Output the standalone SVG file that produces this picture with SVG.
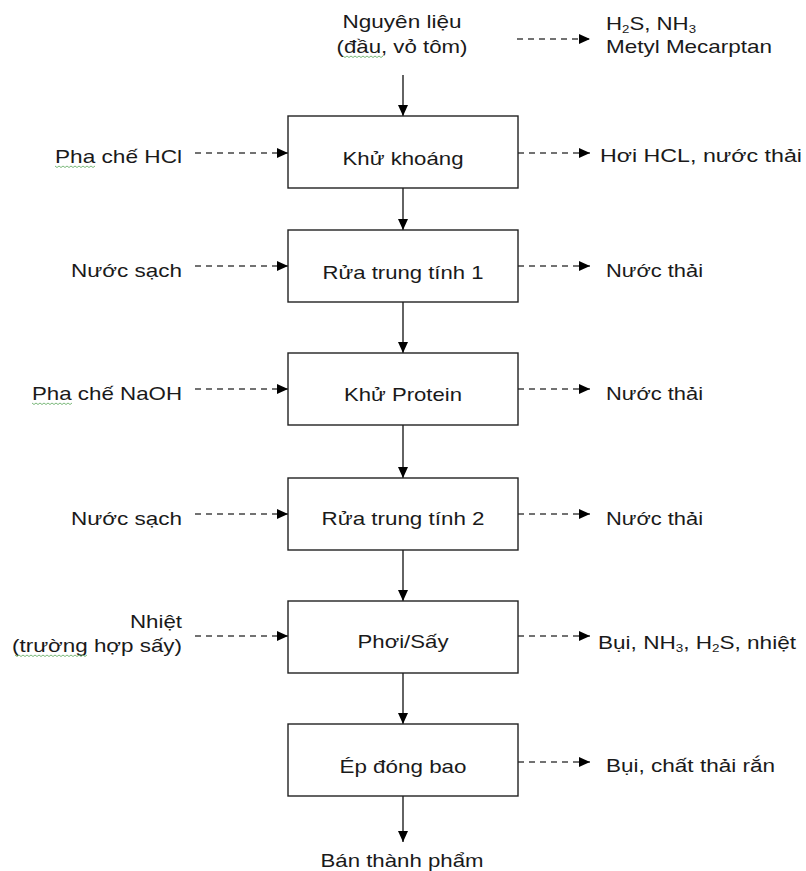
<svg xmlns="http://www.w3.org/2000/svg" width="806" height="871" viewBox="0 0 806 871">
<style>
text{font-family:"Liberation Sans",Arial,sans-serif;font-size:18.5px;fill:#1a1a1a}
.box{fill:#fff;stroke:#222;stroke-width:1.4}
.flow{stroke:#222;stroke-width:1.4;fill:none}
.dash{stroke:#444;stroke-width:1.4;stroke-dasharray:6 5;fill:none}
.sq{stroke:#7cb97c;stroke-width:1;fill:none}
.sub{font-size:11px}
</style>
<defs>
<marker id="ah" markerWidth="11" markerHeight="10" refX="11" refY="5" orient="auto" markerUnits="userSpaceOnUse">
<path d="M0,0 L11,5 L0,10 z" fill="#000"/>
</marker>
</defs>
<rect width="806" height="871" fill="#fff"/>

<g id="connectors">
<line class="flow" x1="403" y1="75" x2="403" y2="116" marker-end="url(#ah)"/>
<line class="flow" x1="403" y1="188" x2="403" y2="230" marker-end="url(#ah)"/>
<line class="flow" x1="403" y1="302" x2="403" y2="353" marker-end="url(#ah)"/>
<line class="flow" x1="403" y1="425" x2="403" y2="478" marker-end="url(#ah)"/>
<line class="flow" x1="403" y1="550" x2="403" y2="601" marker-end="url(#ah)"/>
<line class="flow" x1="403" y1="673" x2="403" y2="724" marker-end="url(#ah)"/>
<line class="flow" x1="403" y1="796" x2="403" y2="842" marker-end="url(#ah)"/>

<line class="dash" x1="517" y1="39" x2="590" y2="39" marker-end="url(#ah)"/>

<line class="dash" x1="195" y1="153" x2="288" y2="153" marker-end="url(#ah)"/>
<line class="dash" x1="195" y1="266" x2="288" y2="266" marker-end="url(#ah)"/>
<line class="dash" x1="195" y1="389" x2="288" y2="389" marker-end="url(#ah)"/>
<line class="dash" x1="195" y1="514" x2="288" y2="514" marker-end="url(#ah)"/>
<line class="dash" x1="195" y1="636" x2="288" y2="636" marker-end="url(#ah)"/>

<line class="dash" x1="518" y1="153" x2="590" y2="153" marker-end="url(#ah)"/>
<line class="dash" x1="518" y1="266" x2="590" y2="266" marker-end="url(#ah)"/>
<line class="dash" x1="518" y1="389" x2="590" y2="389" marker-end="url(#ah)"/>
<line class="dash" x1="518" y1="514" x2="590" y2="514" marker-end="url(#ah)"/>
<line class="dash" x1="518" y1="636" x2="590" y2="636" marker-end="url(#ah)"/>
<line class="dash" x1="518" y1="762" x2="590" y2="762" marker-end="url(#ah)"/>
</g>

<g id="input">
<text x="402" y="28" text-anchor="middle" textLength="119" lengthAdjust="spacingAndGlyphs">Nguyên liệu</text>
<text x="402" y="53" text-anchor="middle" textLength="131" lengthAdjust="spacingAndGlyphs">(đầu, vỏ tôm)</text>
<path class="sq" d="M343,56 l2,1.5 2,-1.5 2,1.5 2,-1.5 2,1.5 2,-1.5 2,1.5 2,-1.5 2,1.5 2,-1.5 2,1.5 2,-1.5 2,1.5 2,-1.5 2,1.5 2,-1.5 2,1.5 2,-1.5 2,1.5 2,-1.5"/>
</g>

<g id="odor">
<text x="606" y="30" textLength="90" lengthAdjust="spacingAndGlyphs">H<tspan class="sub" dy="3">2</tspan><tspan dy="-3">S, NH</tspan><tspan class="sub" dy="3">3</tspan></text>
<text x="606" y="53" textLength="166" lengthAdjust="spacingAndGlyphs">Metyl Mecarptan</text>
</g>

<g id="n1">
<rect class="box" x="288" y="116" width="230" height="72"/>
<text x="403" y="165" text-anchor="middle" textLength="121" lengthAdjust="spacingAndGlyphs">Khử khoáng</text>
</g>
<g id="n2">
<rect class="box" x="288" y="230" width="230" height="72"/>
<text x="403" y="279" text-anchor="middle" textLength="161" lengthAdjust="spacingAndGlyphs">Rửa trung tính 1</text>
</g>
<g id="n3">
<rect class="box" x="288" y="353" width="230" height="72"/>
<text x="403" y="401" text-anchor="middle" textLength="118" lengthAdjust="spacingAndGlyphs">Khử Protein</text>
</g>
<g id="n4">
<rect class="box" x="288" y="478" width="230" height="72"/>
<text x="403" y="525" text-anchor="middle" textLength="163" lengthAdjust="spacingAndGlyphs">Rửa trung tính 2</text>
</g>
<g id="n5">
<rect class="box" x="288" y="601" width="230" height="72"/>
<text x="403" y="648" text-anchor="middle" textLength="91" lengthAdjust="spacingAndGlyphs">Phơi/Sấy</text>
</g>
<g id="n6">
<rect class="box" x="288" y="724" width="230" height="72"/>
<text x="403" y="773" text-anchor="middle" textLength="127" lengthAdjust="spacingAndGlyphs">Ép đóng bao</text>
</g>

<g id="output">
<text x="402" y="867" text-anchor="middle" textLength="163" lengthAdjust="spacingAndGlyphs">Bán thành phẩm</text>
</g>

<g id="in1">
<text x="182" y="163" text-anchor="end" textLength="127" lengthAdjust="spacingAndGlyphs">Pha chế HCl</text>
<path class="sq" d="M55,166 l2,1.5 2,-1.5 2,1.5 2,-1.5 2,1.5 2,-1.5 2,1.5 2,-1.5 2,1.5 2,-1.5 2,1.5 2,-1.5 2,1.5 2,-1.5 2,1.5 2,-1.5 2,1.5 2,-1.5 2,1.5 2,-1.5"/>
</g>
<g id="in2">
<text x="182" y="277" text-anchor="end" textLength="111" lengthAdjust="spacingAndGlyphs">Nước sạch</text>
</g>
<g id="in3">
<text x="182" y="400" text-anchor="end" textLength="150" lengthAdjust="spacingAndGlyphs">Pha chế NaOH</text>
<path class="sq" d="M32,403 l2,1.5 2,-1.5 2,1.5 2,-1.5 2,1.5 2,-1.5 2,1.5 2,-1.5 2,1.5 2,-1.5 2,1.5 2,-1.5 2,1.5 2,-1.5 2,1.5 2,-1.5 2,1.5 2,-1.5 2,1.5 2,-1.5"/>
</g>
<g id="in4">
<text x="182" y="525" text-anchor="end" textLength="111" lengthAdjust="spacingAndGlyphs">Nước sạch</text>
</g>
<g id="in5">
<text x="182" y="628" text-anchor="end" textLength="52" lengthAdjust="spacingAndGlyphs">Nhiệt</text>
<text x="182" y="652" text-anchor="end" textLength="170" lengthAdjust="spacingAndGlyphs">(trường hợp sấy)</text>
<path class="sq" d="M15,655 l2,1.5 2,-1.5 2,1.5 2,-1.5 2,1.5 2,-1.5 2,1.5 2,-1.5 2,1.5 2,-1.5 2,1.5 2,-1.5 2,1.5 2,-1.5 2,1.5 2,-1.5 2,1.5 2,-1.5 2,1.5 2,-1.5 2,1.5 2,-1.5 2,1.5 2,-1.5 2,1.5 2,-1.5 2,1.5 2,-1.5 2,1.5 2,-1.5 2,1.5 2,-1.5 2,1.5 2,-1.5 2,1.5 2,-1.5"/>
</g>

<g id="out1">
<text x="600" y="162" textLength="202" lengthAdjust="spacingAndGlyphs">Hơi HCL, nước thải</text>
</g>
<g id="out2">
<text x="606" y="277" textLength="97" lengthAdjust="spacingAndGlyphs">Nước thải</text>
</g>
<g id="out3">
<text x="606" y="400" textLength="97" lengthAdjust="spacingAndGlyphs">Nước thải</text>
</g>
<g id="out4">
<text x="606" y="525" textLength="97" lengthAdjust="spacingAndGlyphs">Nước thải</text>
</g>
<g id="out5">
<text x="598" y="649" textLength="198" lengthAdjust="spacingAndGlyphs">Bụi, NH<tspan class="sub" dy="3">3</tspan><tspan dy="-3">, H</tspan><tspan class="sub" dy="3">2</tspan><tspan dy="-3">S, nhiệt</tspan></text>
</g>
<g id="out6">
<text x="606" y="772" textLength="169" lengthAdjust="spacingAndGlyphs">Bụi, chất thải rắn</text>
</g>
</svg>
